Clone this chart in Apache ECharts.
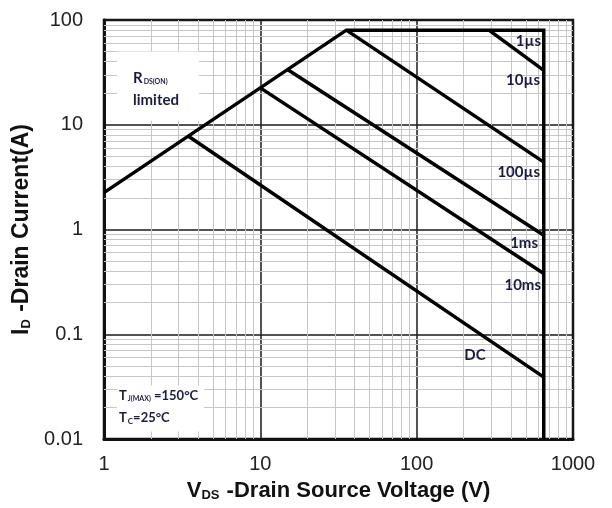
<!DOCTYPE html>
<html>
<head>
<meta charset="utf-8">
<script src="https://cdn.jsdelivr.net/npm/echarts@6/dist/echarts.min.js"></script>
<style>html,body{margin:0;padding:0;background:#fff}#c{width:612px;height:508px}</style>
</head>
<body>
<div id="c"></div>
<script>
// ---- data (V in volts, I in amps) ----
const envelopeV = [1, 35.5, 650, 650];
const envelopeI = [2.25, 80, 80, 0.01];
const us1V = [290, 650];      const us1I = [80, 33];
const us10V = [35.5, 650];    const us10I = [80, 4.4];
const us100V = [15, 650];     const us100I = [33.5, 0.88];
const ms1V = [10, 650];       const ms1I = [22.5, 0.38];
const dcV = [3.45, 650];      const dcI = [7.8, 0.039];
const xTicks = [1, 10, 100, 1000];
const yTicks = [0.01, 0.1, 1, 10, 100];

function pairs(xs, ys){ return xs.map((x,i)=>[x, ys[i]]); }

// minor gridline values (2..9 per decade)
const minorX = [], minorY = [];
for (let d = 1; d < 1000; d *= 10) for (let k = 2; k <= 9; k++) minorX.push(+(k*d).toPrecision(3));
for (let d = 0.01; d < 99; d *= 10) for (let k = 2; k <= 9; k++) minorY.push(+(k*d).toPrecision(3));

const chart = echarts.init(document.getElementById('c'), null, {renderer:'canvas'});
const curveStyle = {color:'#000', width:3.5, join:'miter', cap:'butt'};
function curve(xs, ys){
  return {type:'line', data:pairs(xs, ys), symbol:'none', lineStyle:curveStyle, z:5, silent:true, animation:false};
}
const labelFont = 'bold 15px Lato, "Open Sans", sans-serif';
const labelColor = '#1c1c3c';
function lbl(text, x, y, align){
  return {type:'text', x:x, y:y, z:10, style:{text:text, fill:labelColor, font:labelFont, align:align||'right', verticalAlign:'middle'}};
}
const axisFont = 'Liberation Sans, Arial, sans-serif';

chart.setOption({
  animation:false,
  backgroundColor:'#fff',
  grid:{left:104, right:39, top:20, bottom:69, show:true, borderColor:'#111', borderWidth:2.5, backgroundColor:'transparent'},
  xAxis:{
    type:'log', logBase:10, min:1, max:1000,
    axisLine:{show:true, lineStyle:{color:'#111', width:3}},
    axisTick:{show:false},
    axisLabel:{color:'#222', fontSize:20, fontFamily:axisFont, margin:15,
      formatter:v=>String(Math.round(v))},
    splitLine:{show:true, lineStyle:{color:'#1a1a1a', width:1.5}},
    name:'{b|V}{s|DS}{b| -Drain Source Voltage (V)}',
    nameLocation:'middle', nameGap:40,
    nameTextStyle:{rich:{
      b:{fontSize:22, fontWeight:'bold', color:'#111', fontFamily:axisFont},
      s:{fontSize:13, fontWeight:'bold', color:'#111', fontFamily:axisFont, padding:[10,1,0,0]}
    }}
  },
  yAxis:{
    type:'log', logBase:10, min:0.01, max:100,
    axisLine:{show:true, lineStyle:{color:'#111', width:3}},
    axisTick:{show:false},
    axisLabel:{color:'#222', fontSize:20, fontFamily:axisFont, margin:21,
      formatter:v=> v>=1 ? String(Math.round(v)) : String(+(+v).toPrecision(1))},
    splitLine:{show:true, lineStyle:{color:'#1a1a1a', width:1.5}},
    name:'{b|I}{s|D}{b| -Drain Current(A)}',
    nameLocation:'middle', nameGap:61, nameRotate:90,
    nameTextStyle:{rich:{
      b:{fontSize:23, fontWeight:'bold', color:'#111', fontFamily:axisFont},
      s:{fontSize:13, fontWeight:'bold', color:'#111', fontFamily:axisFont, padding:[10,1,0,0]}
    }}
  },
  series:[
    {type:'line', data:[], silent:true, z:1,
      markLine:{silent:true, z:1, symbol:['none','none'], label:{show:false}, animation:false,
        lineStyle:{type:'solid', color:'#c6c6c6', width:1},
        emphasis:{disabled:true},
        data: minorX.map(v=>({xAxis:v})).concat(minorY.map(v=>({yAxis:v})))}},
    {type:'line', data:[], silent:true, z:2,
      markArea:{silent:true, z:2, itemStyle:{color:'#fff'}, label:{show:false}, emphasis:{disabled:true},
        data:[
          [{coord:[1.21, 50]}, {coord:[4.05, 10.9]}],
          [{coord:[1.21, 0.0325]}, {coord:[4.36, 0.0118]}]
        ]}},
    curve(envelopeV, envelopeI),
    curve(us1V, us1I),
    curve(us10V, us10I),
    curve(us100V, us100I),
    curve(ms1V, ms1I),
    curve(dcV, dcI)
  ],
  graphic:[
    lbl('1µs', 541, 41),
    lbl('10µs', 540, 80),
    lbl('100µs', 540, 172),
    lbl('1ms', 538, 243),
    lbl('10ms', 541, 285),
    lbl('DC', 475, 355, 'center'),
    {type:'text', x:133, y:78, z:10, style:{text:'{r|R}{s|DS(ON)}', verticalAlign:'middle', align:'left',
      rich:{r:{font:labelFont, fill:labelColor}, s:{font:'bold 7px Lato, sans-serif', fill:labelColor, padding:[7,0,0,1]}}}},
    lbl('limited', 133, 100, 'left'),
    {type:'text', x:119, y:396, z:10, style:{text:'{r|T}{s|J(MAX)}{r| =150°C}', verticalAlign:'middle', align:'left',
      rich:{r:{font:'bold 13px Lato, sans-serif', fill:labelColor}, s:{font:'bold 7px Lato, sans-serif', fill:labelColor, padding:[6,0,0,1]}}}},
    {type:'text', x:119, y:418, z:10, style:{text:'{r|T}{s|C}{r|=25°C}', verticalAlign:'middle', align:'left',
      rich:{r:{font:'bold 13px Lato, sans-serif', fill:labelColor}, s:{font:'bold 8px Lato, sans-serif', fill:labelColor, padding:[6,0,0,1]}}}}
  ]
});
</script>
</body>
</html>
